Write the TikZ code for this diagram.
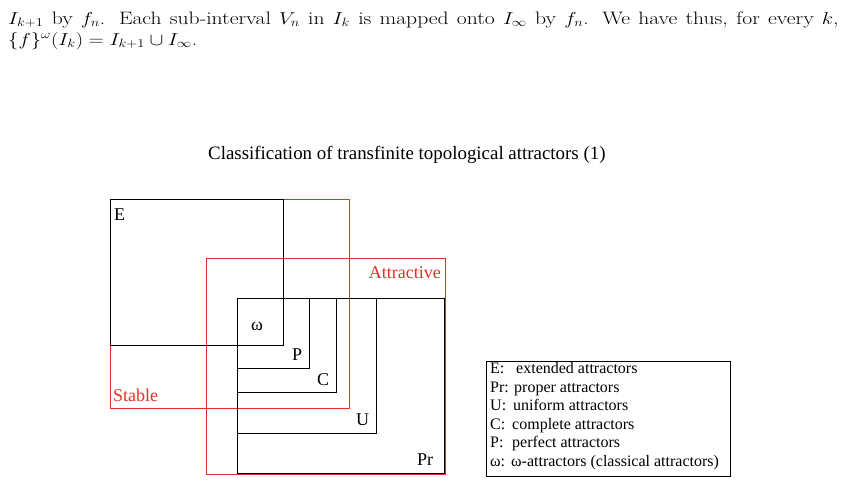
\documentclass[tikz,border=0pt]{standalone}
\usepackage{fontspec}
\newfontfamily\cam{Liberation Serif}
\definecolor{myred}{RGB}{228,48,38}
\begin{document}
\begin{tikzpicture}[x=1pt,y=-1pt,
  blk/.style={draw=black,line width=1pt},
  redbox/.style={draw=myred,line width=1pt},
  lab/.style={font=\cam\fontsize{18}{21}\selectfont,inner sep=0pt,anchor=base west},
  legtxt/.style={font=\cam\fontsize{16}{18}\selectfont,inner sep=0pt,anchor=base west}]
\useasboundingbox (0,0) rectangle (845,483);
% top text
\node[inner sep=0pt,anchor=base west,font=\fontsize{18}{21}\selectfont] (l1) at (8,24)
  {\scalebox{1.2}[1]{\makebox[692pt][s]{$I_{k+1}$ by $f_n$. Each sub-interval $V_n$ in $I_k$ is mapped onto $I_\infty$ by $f_n$. We have thus, for every $k$,}}};
\node[inner sep=0pt,anchor=base west,font=\fontsize{18}{21}\selectfont] (l2) at (8,45)
  {\scalebox{1.2}[1]{$\{f\}^\omega(I_k)=I_{k+1}\cup I_\infty$.}};
% title
\node[inner sep=0pt,anchor=base west,font=\cam\fontsize{18.9}{22}\selectfont] (title) at (208,159)
  {Classification of transfinite topological attractors (1)};
% red boxes
\draw[redbox] (110,199) rectangle (349,408);
\draw[redbox] (206,258) rectangle (445,474);
% black boxes
\draw[blk] (110,199) rectangle (283,345);
\draw[blk] (237,298) rectangle (444,473);
\draw[blk] (237,298) rectangle (376,433);
\draw[blk] (237,298) rectangle (336,392);
\draw[blk] (237,298) rectangle (309,368);
\draw[blk] (237,298) rectangle (283,345);
% labels
\node[lab] (E) at (114,220) {E};
\node[lab,text=myred] (stable) at (113,401) {Stable};
\node[lab,text=myred,anchor=base east] (attr) at (441,278) {Attractive};
\node[lab] (w) at (251,330) {ω};
\node[lab] (P) at (292,360) {P};
\node[lab] (C) at (317,385) {C};
\node[lab] (U) at (356,425) {U};
\node[lab] (Pr) at (417,465) {Pr};
% legend
\draw[line width=1pt] (486,361) rectangle (730,476);
\node[legtxt] (k1) at (490,373) {E:};
\node[legtxt] (k2) at (490,392) {Pr:};
\node[legtxt] (k3) at (490,410) {U:};
\node[legtxt] (k4) at (490,429) {C:};
\node[legtxt] (k5) at (490,447) {P:};
\node[legtxt] (k6) at (490,466) {ω:};
\node[legtxt] (v1) at (516,373) {extended attractors};
\node[legtxt] (v2) at (514,392) {proper attractors};
\node[legtxt] (v3) at (513,410) {uniform attractors};
\node[legtxt] (v4) at (512,429) {complete attractors};
\node[legtxt] (v5) at (512,447) {perfect attractors};
\node[legtxt] (v6) at (511,466) {ω-attractors (classical attractors)};
\end{tikzpicture}
\end{document}
